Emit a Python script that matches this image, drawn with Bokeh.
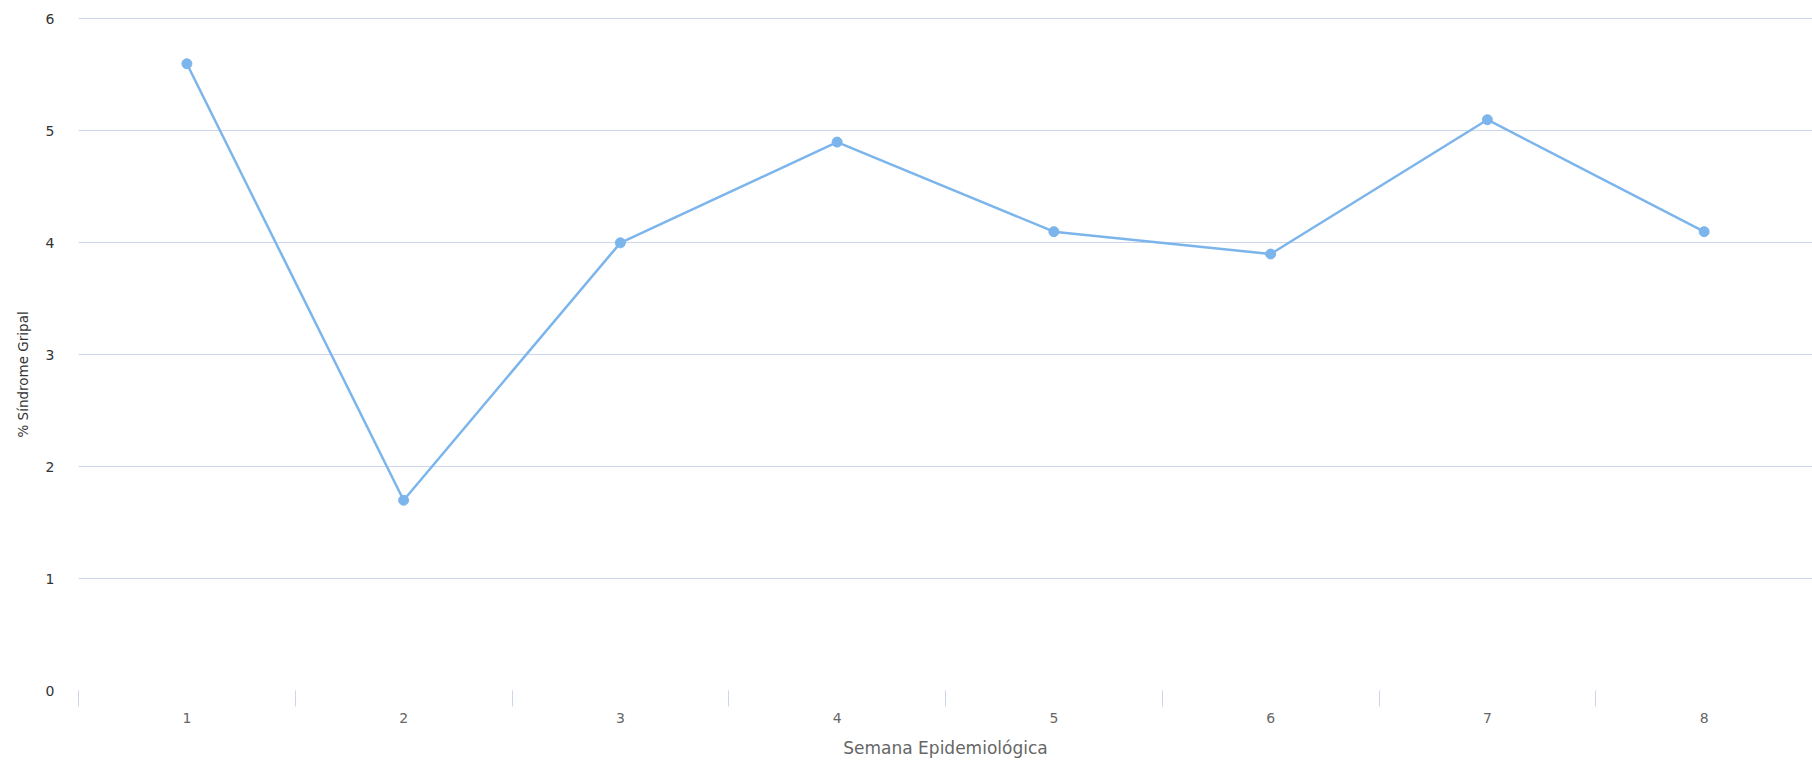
from bokeh.plotting import figure
from bokeh.models import FixedTicker, Range1d, Title
from bokeh.embed import file_html
from bokeh.resources import INLINE

semanas = [1, 2, 3, 4, 5, 6, 7, 8]
semana_labels = ["1", "2", "3", "4", "5", "6", "7", "8"]
porcentaje = [5.6, 1.7, 4.0, 4.9, 4.1, 3.9, 5.1, 4.1]
y_ticks = [0, 1, 2, 3, 4, 5, 6]

FONT = "DejaVu Sans"
LINE = "#7cb5ec"
GRID = "#ccd6eb"

p = figure(width=1812, height=760, output_backend="svg", toolbar_location=None,
           x_range=Range1d(0.5, 8.5), y_range=Range1d(0, 6.0134),
           min_border_left=77, min_border_right=0, min_border_top=17, min_border_bottom=68)
p.outline_line_color = None
p.background_fill_color = "white"
p.border_fill_color = "white"

p.line(semanas, porcentaje, line_color=LINE, line_width=2.5)
p.scatter(semanas, porcentaje, size=10, fill_color=LINE, line_color=LINE)

# grids
p.xgrid.grid_line_color = None
p.ygrid.ticker = FixedTicker(ticks=y_ticks[1:])
p.ygrid.grid_line_color = GRID
p.ygrid.grid_line_width = 1

# x axis
bounds = [s - 0.5 for s in semanas] + [semanas[-1] + 0.5]
xa = p.xaxis[0]
xa.ticker = FixedTicker(ticks=semanas, minor_ticks=bounds)
xa.major_label_overrides = {s: l for s, l in zip(semanas, semana_labels)}
xa.axis_line_color = None
xa.major_tick_line_color = None
xa.major_tick_out = 0
xa.major_tick_in = 0
xa.minor_tick_line_color = GRID
xa.minor_tick_out = 16
xa.minor_tick_in = 0
xa.major_label_standoff = 6
xa.major_label_text_font = FONT
xa.major_label_text_font_size = "14px"
xa.major_label_text_color = "#666666"
xa.axis_label = "Semana Epidemiológica"
xa.axis_label_text_font = FONT
xa.axis_label_text_font_size = "17px"
xa.axis_label_text_font_style = "normal"
xa.axis_label_text_color = "#666666"
xa.axis_label_standoff = 12

# y axis
ya = p.yaxis[0]
ya.ticker = FixedTicker(ticks=y_ticks)
ya.axis_line_color = None
ya.major_tick_line_color = None
ya.minor_tick_line_color = None
ya.major_tick_out = 0
ya.major_label_standoff = 24
ya.major_label_text_font = FONT
ya.major_label_text_font_size = "14px"
ya.major_label_text_color = "#333333"

ytitle = Title(text="% Síndrome Gripal", align="left", offset=253, standoff=24,
               text_font=FONT, text_font_size="13.5px", text_font_style="normal",
               text_color="#333333")
p.add_layout(ytitle, "left")

open("out.html", "w").write(file_html(p, INLINE))
